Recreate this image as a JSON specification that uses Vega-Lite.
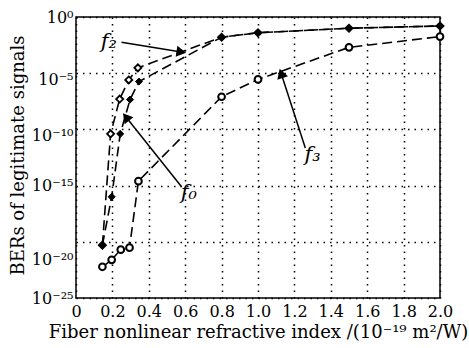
{
  "$schema": "https://vega.github.io/schema/vega-lite/v6.json",
  "width": 364,
  "height": 281,
  "autosize": {"type": "none"},
  "padding": {"left": 76, "top": 17, "right": 29, "bottom": 50},
  "background": "white",
  "config": {
    "view": {"stroke": "black", "strokeWidth": 1.5},
    "font": "DejaVu Serif",
    "axis": {
      "domain": false,
      "ticks": false,
      "grid": true,
      "gridColor": "black",
      "gridDash": [1.5, 5],
      "gridWidth": 1.5,
      "gridOpacity": 1,
      "labelFont": "DejaVu Serif",
      "labelColor": "black",
      "titleFont": "DejaVu Serif",
      "titleColor": "black",
      "titleFontWeight": "normal",
      "labelFlush": false,
      "labelOverlap": false
    }
  },
  "datasets": {
    "series": [
      {"s": "f2", "x": 0.145, "y": 5e-21},
      {"s": "f2", "x": 0.19, "y": 4e-11},
      {"s": "f2", "x": 0.24, "y": 5e-8},
      {"s": "f2", "x": 0.29, "y": 2.5e-6},
      {"s": "f2", "x": 0.34, "y": 3e-5},
      {"s": "f2", "x": 0.8, "y": 1.6e-2},
      {"s": "f2", "x": 1.0, "y": 4e-2},
      {"s": "f2", "x": 1.5, "y": 0.1},
      {"s": "f2", "x": 2.0, "y": 0.16},
      {"s": "f0", "x": 0.145, "y": 5e-21},
      {"s": "f0", "x": 0.196, "y": 1e-16},
      {"s": "f0", "x": 0.243, "y": 4e-11},
      {"s": "f0", "x": 0.297, "y": 4.5e-8},
      {"s": "f0", "x": 0.346, "y": 1.8e-6},
      {"s": "f0", "x": 0.8, "y": 1.6e-2},
      {"s": "f0", "x": 1.0, "y": 4e-2},
      {"s": "f0", "x": 1.5, "y": 0.1},
      {"s": "f0", "x": 2.0, "y": 0.16},
      {"s": "f3", "x": 0.145, "y": 6e-23},
      {"s": "f3", "x": 0.196, "y": 2.5e-22},
      {"s": "f3", "x": 0.246, "y": 2e-21},
      {"s": "f3", "x": 0.294, "y": 3e-21},
      {"s": "f3", "x": 0.343, "y": 2.5e-15},
      {"s": "f3", "x": 0.8, "y": 8e-8},
      {"s": "f3", "x": 1.0, "y": 2.8e-6},
      {"s": "f3", "x": 1.5, "y": 2e-3},
      {"s": "f3", "x": 2.0, "y": 1.8e-2}
    ],
    "arrows": [
      {"s": "f2", "x1": 0.25, "y1": 5.6e-3, "x2": 0.57, "y2": 8e-4},
      {"s": "f0", "x1": 0.58, "y1": 8e-16, "x2": 0.28, "y2": 1e-9},
      {"s": "f3", "x1": 1.26, "y1": 2.2e-12, "x2": 1.13, "y2": 7e-6}
    ],
    "labels": [
      {"s": "f2", "t": "f₂", "x": 0.18, "y": 6.3e-3},
      {"s": "f0", "t": "f₀", "x": 0.62, "y": 2e-16},
      {"s": "f3", "t": "f₃", "x": 1.3, "y": 5e-13}
    ]
  },
  "encoding": {
    "x": {
      "type": "quantitative",
      "scale": {"domain": [0, 2], "nice": false, "zero": false},
      "axis": {
        "values": [0, 0.2, 0.4, 0.6, 0.8, 1.0, 1.2, 1.4, 1.6, 1.8, 2.0],
        "labelExpr": "datum.value == 0 ? '0' : format(datum.value, '.1f')",
        "labelFontSize": 16,
        "labelPadding": 5,
        "title": "Fiber nonlinear refractive index /(10⁻¹⁹ m²/W)",
        "titleFontSize": 18,
        "titleX": 182,
        "titleY": 34,
        "titleAnchor": "middle",
        "titleAlign": "center",
        "titleBaseline": "middle"
      }
    },
    "y": {
      "type": "quantitative",
      "scale": {"type": "log", "domain": [1e-25, 1], "nice": false},
      "axis": {
        "values": [1, 1e-5, 1e-10, 1e-15, 1e-20, 1e-25],
        "labelExpr": "{'0': '10⁰', '-5': '10⁻⁵', '-10': '10⁻¹⁰', '-15': '10⁻¹⁵', '-20': '10⁻²⁰', '-25': '10⁻²⁵'}[toString(round(log(datum.value) / LN10))]",
        "labelFontSize": 16,
        "labelPadding": 3,
        "labelOffset": {
          "condition": [
            {"test": "datum.value < 1e-17 && datum.value > 1e-22", "value": 18},
            {"test": "datum.value < 1e-3 && datum.value > 1e-12", "value": 6}
          ],
          "value": 0
        },
        "title": "BERs of legitimate signals",
        "titleFontSize": 18,
        "titleX": -58,
        "titleY": 138,
        "titleAngle": -90,
        "titleAlign": "center",
        "titleBaseline": "middle"
      }
    }
  },
  "layer": [
    {
      "data": {"name": "series"},
      "mark": {"type": "line", "color": "black", "strokeWidth": 1.6, "strokeDash": [10, 5]},
      "encoding": {
        "x": {"field": "x"},
        "y": {"field": "y"},
        "detail": {"field": "s"}
      }
    },
    {
      "data": {"name": "series"},
      "transform": [{"filter": "datum.s == 'f3'"}],
      "mark": {"type": "point", "shape": "circle", "filled": true, "fill": "white", "stroke": "black", "strokeWidth": 2, "size": 45, "opacity": 1},
      "encoding": {"x": {"field": "x"}, "y": {"field": "y"}}
    },
    {
      "data": {"name": "series"},
      "transform": [{"filter": "datum.s == 'f2'"}],
      "mark": {"type": "point", "shape": "diamond", "filled": true, "fill": "white", "stroke": "black", "strokeWidth": 1.8, "size": 50, "opacity": 1},
      "encoding": {"x": {"field": "x"}, "y": {"field": "y"}}
    },
    {
      "data": {"name": "series"},
      "transform": [{"filter": "datum.s == 'f0'"}],
      "mark": {"type": "point", "shape": "diamond", "filled": true, "fill": "black", "stroke": "black", "strokeWidth": 1, "size": 50, "opacity": 1},
      "encoding": {"x": {"field": "x"}, "y": {"field": "y"}}
    },
    {
      "data": {"name": "arrows"},
      "mark": {"type": "rule", "color": "black", "strokeWidth": 1.5},
      "encoding": {
        "x": {"field": "x1"},
        "y": {"field": "y1"},
        "x2": {"field": "x2"},
        "y2": {"field": "y2"}
      }
    },
    {
      "data": {"name": "arrows"},
      "transform": [{"filter": "datum.s == 'f2'"}],
      "mark": {"type": "point", "shape": "triangle", "filled": true, "fill": "black", "stroke": "black", "size": 60, "angle": 99, "opacity": 1},
      "encoding": {"x": {"field": "x2"}, "y": {"field": "y2"}}
    },
    {
      "data": {"name": "arrows"},
      "transform": [{"filter": "datum.s == 'f0'"}],
      "mark": {"type": "point", "shape": "triangle", "filled": true, "fill": "black", "stroke": "black", "size": 60, "angle": 321, "opacity": 1},
      "encoding": {"x": {"field": "x2"}, "y": {"field": "y2"}}
    },
    {
      "data": {"name": "arrows"},
      "transform": [{"filter": "datum.s == 'f3'"}],
      "mark": {"type": "point", "shape": "triangle", "filled": true, "fill": "black", "stroke": "black", "size": 60, "angle": 342, "opacity": 1},
      "encoding": {"x": {"field": "x2"}, "y": {"field": "y2"}}
    },
    {
      "data": {"name": "labels"},
      "mark": {"type": "text", "font": "DejaVu Serif", "fontStyle": "italic", "fontSize": 21, "color": "black", "align": "center", "baseline": "middle"},
      "encoding": {
        "x": {"field": "x"},
        "y": {"field": "y"},
        "text": {"field": "t"}
      }
    }
  ]
}
